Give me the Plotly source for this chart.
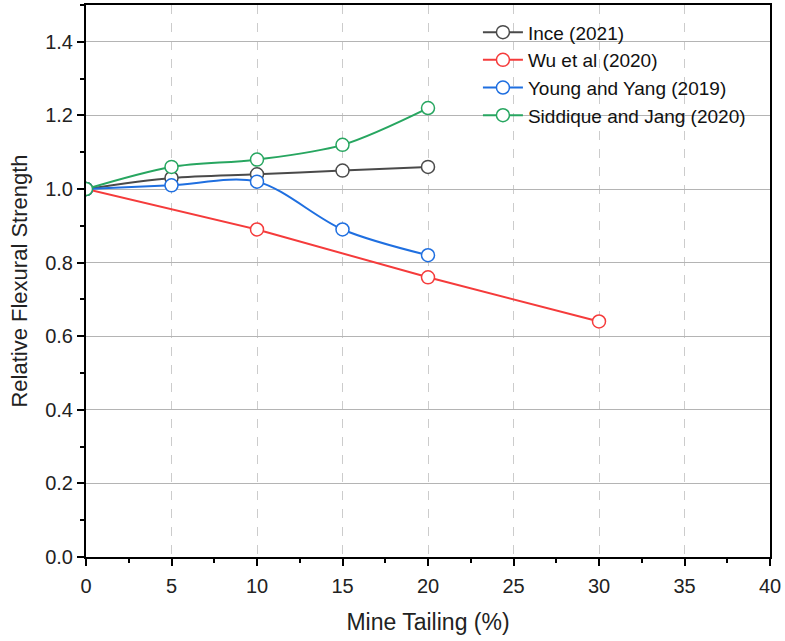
import plotly.graph_objects as go

ince_x = [0, 5, 10, 15, 20]
ince_y = [1.0, 1.03, 1.04, 1.05, 1.06]
wu_x = [0, 10, 20, 30]
wu_y = [1.0, 0.89, 0.76, 0.64]
young_x = [0, 5, 10, 15, 20]
young_y = [1.0, 1.01, 1.02, 0.89, 0.82]
sid_x = [0, 5, 10, 15, 20]
sid_y = [1.0, 1.06, 1.08, 1.12, 1.22]

x_ticks = [0, 5, 10, 15, 20, 25, 30, 35, 40]
y_ticks = [0.0, 0.2, 0.4, 0.6, 0.8, 1.0, 1.2, 1.4]

series = [
    ("Ince (2021)", ince_x, ince_y, "#4a4a4a", "spline"),
    ("Wu et al (2020)", wu_x, wu_y, "#f53b3b", "linear"),
    ("Young and Yang (2019)", young_x, young_y, "#1f6fe0", "spline"),
    ("Siddique and Jang (2020)", sid_x, sid_y, "#27a660", "spline"),
]

fig = go.Figure()
for name, xs, ys, col, shape in series:
    fig.add_trace(go.Scatter(
        x=xs, y=ys, name=name, mode="lines+markers",
        line=dict(color=col, width=2, shape=shape, smoothing=0.9),
        marker=dict(symbol="circle", size=13, color="white",
                    line=dict(color=col, width=1.5)),
    ))

FONT = "Liberation Sans, Arial"
axis_common = dict(
    showline=True, linewidth=2, linecolor="black", mirror=True,
    ticks="outside", ticklen=7, tickwidth=2, tickcolor="black",
    tickfont=dict(size=20, color="#222", family=FONT),
    zeroline=False, ticklabeloverflow="allow", automargin=False,
)

fig.update_layout(
    width=785, height=641,
    margin=dict(l=86, r=15, t=5, b=84),
    plot_bgcolor="white", paper_bgcolor="white",
    font=dict(family=FONT, color="#222"),
    xaxis=dict(range=[0, 40], tickvals=x_ticks, ticklabelstandoff=3,
               title=dict(text="Mine Tailing (%)", font=dict(size=23), standoff=18),
               showgrid=True, gridcolor="#cccccc", griddash="dash", gridwidth=1,
               minor=dict(dtick=2.5, ticks="outside", ticklen=4, tickwidth=2, tickcolor="black", showgrid=False),
               **axis_common),
    yaxis=dict(range=[0, 1.5], tickvals=y_ticks, tickformat=".1f",
               title=dict(text="Relative Flexural Strength", font=dict(size=22), standoff=11),
               showgrid=True, gridcolor="#b4b4b4", gridwidth=1,
               minor=dict(dtick=0.1, ticks="outside", ticklen=4, tickwidth=2, tickcolor="black", showgrid=False),
               **axis_common),
    legend=dict(x=0.573, y=0.985, xanchor="left", yanchor="top",
                bgcolor="rgba(255,255,255,0)", font=dict(size=19, color="#111"),
                tracegroupgap=0, itemwidth=40),
    showlegend=True,
)

fig.write_html(
    "out.html",
    config={"displayModeBar": False},
    post_script="document.body.style.margin='0';document.body.style.overflow='hidden';",
)
